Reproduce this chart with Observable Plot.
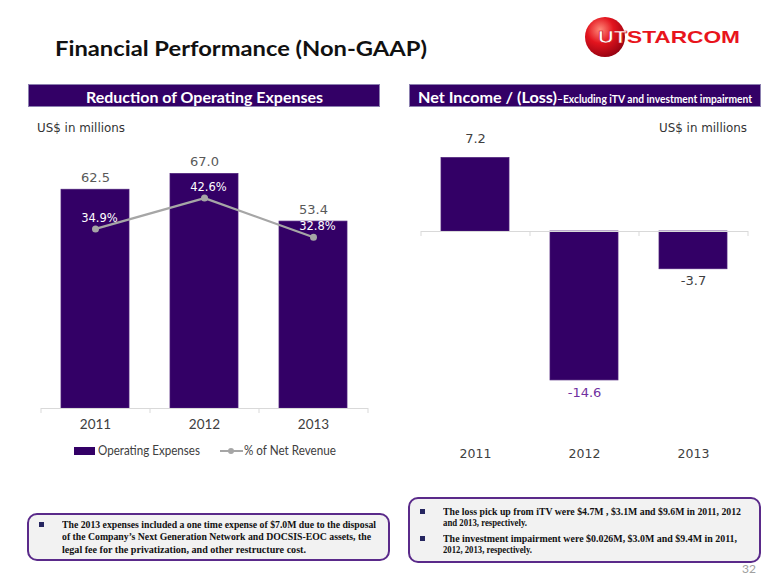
<!DOCTYPE html>
<html><head><meta charset="utf-8">
<script src="https://cdn.jsdelivr.net/npm/d3@7"></script>
<script src="https://cdn.jsdelivr.net/npm/@observablehq/plot@0.6"></script>
<style>
html,body{margin:0;padding:0;background:#fff;}
#page{position:relative;width:780px;height:585px;overflow:hidden;background:#fff;font-family:Lato,sans-serif;}
.abs{position:absolute;white-space:nowrap;}
.fit{display:inline-block;transform-origin:0 50%;}
.box{position:absolute;box-sizing:border-box;border:2px solid #5a2a8a;border-radius:10px;background:#f2f2f2;}
.hdr{position:absolute;box-sizing:border-box;background:#330066;border:1px solid #8c80b0;}
.bul{position:absolute;width:5px;height:5px;background:#262660;}
</style></head><body><div id="page"></div>
<script>
// ---- data ----
const years = ["2011", "2012", "2013"];
const operatingExpenses = [62.5, 67.0, 53.4];
const pctOfNetRevenue = [34.9, 42.6, 32.8];
const netIncome = [7.2, -14.6, -3.7];
const opexAxis = [0, 80];
const pctAxis = [-10, 60];
const netAxis = [-20, 10];

const PURPLE = "#330066";
const page = document.getElementById("page");

function label(txt, o) {
  const size = o.size, lh = o.lh || Math.round(size * 1.25);
  const d = document.createElement("div");
  d.className = "abs";
  Object.assign(d.style, {left: o.x + "px", top: (o.cy - lh / 2) + "px", height: lh + "px", lineHeight: lh + "px",
    fontSize: size + "px", fontFamily: o.family || "Lato", fontWeight: o.weight || "normal", color: o.color || "#000"});
  const s = document.createElement("span");
  s.className = "fit"; s.textContent = txt;
  d.appendChild(s); page.appendChild(d);
  if (o.w) { const cw = s.getBoundingClientRect().width; if (cw > 0) s.style.transform = `scaleX(${o.w / cw})`; }
  return d;
}
function block(cls, x, y, w, h) {
  const d = document.createElement("div");
  d.className = cls;
  Object.assign(d.style, {left: x + "px", top: y + "px", width: w + "px", height: h + "px"});
  page.appendChild(d); return d;
}

// ---- title & logo ----
label("Financial Performance (Non-GAAP)", {x: 55, cy: 47.5, w: 372, size: 20.5, weight: "bold", color: "#111"});
const logo = document.createElementNS("http://www.w3.org/2000/svg", "svg");
logo.setAttribute("width", 170); logo.setAttribute("height", 50);
Object.assign(logo.style, {position: "absolute", left: "583px", top: "12px"});
logo.innerHTML = `<defs><radialGradient id="sph" cx="0.38" cy="0.32" r="0.75">
<stop offset="0" stop-color="#ff8a7a"/><stop offset="0.45" stop-color="#e3141e"/><stop offset="1" stop-color="#8e0010"/></radialGradient></defs>
<circle cx="22" cy="25" r="20" fill="url(#sph)"/>
<text x="15" y="31" font-family="Liberation Sans" font-weight="bold" font-size="17" fill="#fff" stroke="#d01018" stroke-width="0.6" textLength="29" lengthAdjust="spacingAndGlyphs">UT</text>
<text x="44" y="31" font-family="Liberation Sans" font-weight="bold" font-size="17" fill="#e8141c" textLength="113" lengthAdjust="spacingAndGlyphs">STARCOM</text>`;
page.appendChild(logo);

// ---- header bars ----
block("hdr", 28, 84, 352, 23);
block("hdr", 409, 84, 352, 23);
label("Reduction of Operating Expenses", {x: 86, cy: 97, w: 237, size: 16, weight: "bold", color: "#fff"});
label("Net Income / (Loss)", {x: 418, cy: 97, w: 139, size: 16, weight: "bold", color: "#fff"});
label("\u2013Excluding iTV and  investment impairment", {x: 557, cy: 99, w: 195, size: 10.5, weight: "bold", color: "#fff"});

label("US$ in millions", {x: 37, cy: 128, w: 88, size: 12, family: "DejaVu Sans", color: "#333"});
label("US$ in millions", {x: 659, cy: 128, w: 88, size: 12, family: "DejaVu Sans", color: "#333"});

// ---- left chart ----
const leftData = years.map((year, i) => ({year, opex: operatingExpenses[i], pct: pctOfNetRevenue[i]}));
const toPrimary = p => (p - pctAxis[0]) / (pctAxis[1] - pctAxis[0]) * (opexAxis[1] - opexAxis[0]) + opexAxis[0];
const LW = 370, LH = 330, LM = {t: 18, r: 22, b: 32, l: 21};
const lStep = (LW - LM.l - LM.r) / years.length;
const lPx = (opexAxis[1] - opexAxis[0]) / (LH - LM.t - LM.b);
const leftPlot = Plot.plot({
  width: LW, height: LH, marginTop: LM.t, marginRight: LM.r, marginBottom: LM.b, marginLeft: LM.l,
  style: {fontFamily: "DejaVu Sans", background: "transparent", overflow: "visible"},
  x: {domain: years, paddingInner: 0.376, paddingOuter: 0.188},
  y: {domain: opexAxis, axis: null},
  marks: [
    Plot.barY(leftData, {x: "year", y: "opex", fill: PURPLE, stroke: "#4a1d78", strokeWidth: 0.75}),
    Plot.ruleY([0], {stroke: "#d9d9d9"}),
    Plot.ruleX(years, {x: d => d, y1: 0, y2: -5 * lPx, dx: -lStep / 2, stroke: "#d9d9d9"}),
    Plot.ruleX(years.slice(-1), {x: d => d, y1: 0, y2: -5 * lPx, dx: lStep / 2, stroke: "#d9d9d9"}),
    Plot.text(leftData, {x: "year", y: "opex", text: d => d.opex.toFixed(1), dy: -12, fill: "#595959", fontSize: 13}),
    Plot.line(leftData, {x: "year", y: d => toPrimary(d.pct), stroke: "#a6a6a6", strokeWidth: 2.25}),
    Plot.dot(leftData, {x: "year", y: d => toPrimary(d.pct), r: 3.5, fill: "#a6a6a6", stroke: null}),
    Plot.text(leftData, {x: "year", y: d => toPrimary(d.pct), text: d => d.pct.toFixed(1) + "%", dy: -11, dx: 4, fill: "#fff", fontSize: 11.5}),
    Plot.axisX({tickSize: 0, tickPadding: 11, fontSize: 13.5, fontFamily: "Lato", fill: "#404040", label: null})
  ]
});
Object.assign(leftPlot.style, {position: "absolute", left: "20px", top: "110px"});
page.appendChild(leftPlot);

// legend
block("abs", 74, 447, 21, 8).style.background = PURPLE;
label("Operating Expenses", {x: 98, cy: 451, w: 102, size: 12.5, color: "#404040"});
block("abs", 220, 450, 23, 2).style.background = "#a6a6a6";
const ld = block("abs", 228, 448, 6, 6); ld.style.background = "#a6a6a6"; ld.style.borderRadius = "50%";
label("% of Net Revenue", {x: 244, cy: 451, w: 92, size: 12.5, color: "#404040"});

// ---- right chart ----
const rightData = years.map((year, i) => ({year, value: netIncome[i]}));
const RW = 370, RH = 360, RM = {t: 19, r: 22, b: 35, l: 21};
const rStep = (RW - RM.l - RM.r) / years.length;
const rPx = (netAxis[1] - netAxis[0]) / (RH - RM.t - RM.b);
const minNet = d3.min(netIncome);
const rightPlot = Plot.plot({
  width: RW, height: RH, marginTop: RM.t, marginRight: RM.r, marginBottom: RM.b, marginLeft: RM.l,
  style: {fontFamily: "DejaVu Sans", background: "transparent", overflow: "visible"},
  x: {domain: years, paddingInner: 0.376, paddingOuter: 0.188},
  y: {domain: netAxis, axis: null},
  marks: [
    Plot.barY(rightData, {x: "year", y: "value", fill: PURPLE, stroke: "#4a1d78", strokeWidth: 0.75}),
    Plot.ruleY([0], {stroke: "#d9d9d9"}),
    Plot.ruleX(years, {x: d => d, y1: 0, y2: -5 * rPx, dx: -rStep / 2, stroke: "#d9d9d9"}),
    Plot.ruleX(years.slice(-1), {x: d => d, y1: 0, y2: -5 * rPx, dx: rStep / 2, stroke: "#d9d9d9"}),
    Plot.text(rightData.filter(d => d.value >= 0), {x: "year", y: "value", text: d => d.value.toFixed(1), dy: -19, fill: "#404040", fontSize: 13}),
    Plot.text(rightData.filter(d => d.value < 0), {x: "year", y: "value", text: d => d.value.toFixed(1), dy: 12,
      fill: d => d.value === minNet ? "#7030a0" : "#404040", fontSize: 13}),
    Plot.axisX({tickSize: 0, tickPadding: 14, fontSize: 12.5, fontFamily: "DejaVu Sans", fill: "#404040", label: null})
  ]
});
Object.assign(rightPlot.style, {position: "absolute", left: "400px", top: "110px"});
page.appendChild(rightPlot);

// ---- note boxes ----
block("box", 27, 513, 363, 48);
block("bul", 39, 522, 5, 5);
const tb = {size: 10, family: "Liberation Serif", weight: "bold", color: "#111", lh: 12};
label("The 2013 expenses included a one time expense of $7.0M due to the disposal", {...tb, x: 62, cy: 524.5, w: 314});
label("of the Company\u2019s Next Generation Network and DOCSIS-EOC assets, the", {...tb, x: 62, cy: 537, w: 309});
label("legal fee for the privatization, and other restructure cost.", {...tb, x: 62, cy: 549.5, w: 244});

block("box", 408, 497, 353, 66);
block("bul", 420, 509, 5, 5);
block("bul", 420, 536, 5, 5);
label("The loss pick up from iTV were $4.7M , $3.1M and $9.6M in 2011, 2012", {...tb, x: 443, cy: 511.5, w: 298});
label("and 2013, respectively.", {...tb, x: 443, cy: 523, w: 84});
label("The  investment impairment were $0.026M, $3.0M and $9.4M in  2011,", {...tb, x: 443, cy: 538.5, w: 294});
label("2012, 2013, respectively.", {...tb, x: 443, cy: 550, w: 89});

label("32", {x: 742, cy: 568, w: 14, size: 12, color: "#a0a0a0"});
</script></body></html>
